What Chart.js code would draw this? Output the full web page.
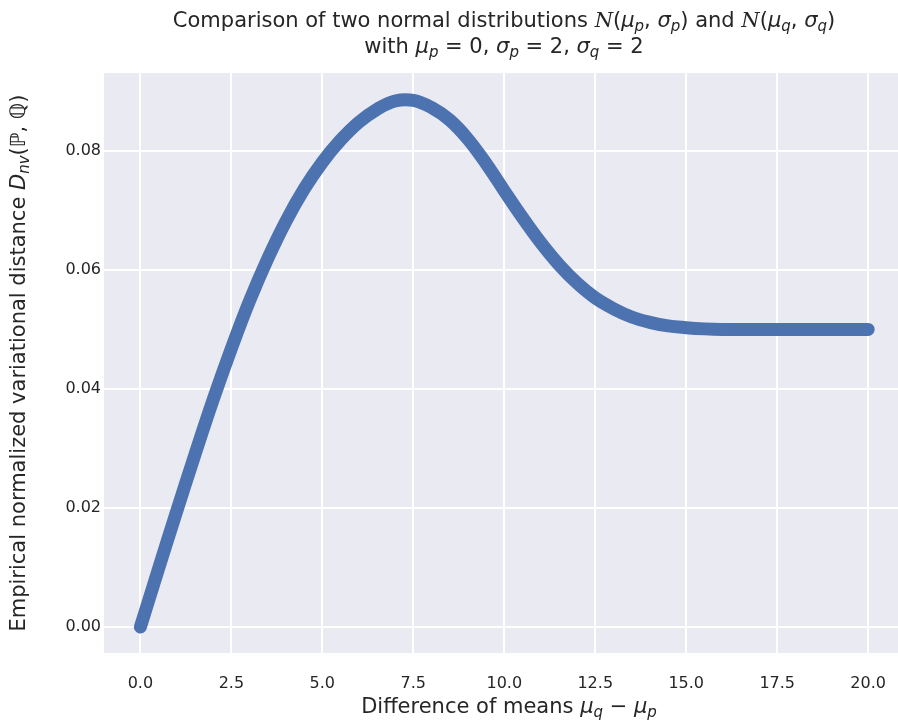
<!DOCTYPE html>
<html>
<head>
<meta charset="utf-8">
<script src="https://cdn.jsdelivr.net/npm/chart.js@4.4.0/dist/chart.umd.min.js"></script>
<style>
  html, body { margin: 0; padding: 0; background: #fff; }
</style>
</head>
<body>
<canvas id="distChart" width="898" height="722"></canvas>
<script>
// values
const meanDiff = [0, 0.5, 1, 1.5, 2, 2.5, 3, 3.5, 4, 4.5, 5, 5.5, 6, 6.5, 7, 7.5, 8, 8.5, 9, 9.5,
  10, 10.5, 11, 11.5, 12, 12.5, 13, 13.5, 14, 14.5, 15, 15.5, 16, 16.5, 17, 17.5, 18, 18.5, 19, 19.5, 20];
const distance = [0, 0.0098, 0.0195, 0.0290, 0.0382, 0.0468, 0.0548, 0.0619, 0.0682, 0.0736,
  0.0781, 0.0818, 0.0848, 0.0870, 0.0884, 0.0885, 0.0873, 0.0852, 0.0820, 0.0779,
  0.0733, 0.0688, 0.0646, 0.0609, 0.0578, 0.0553, 0.0535, 0.0521, 0.0512, 0.0506,
  0.0503, 0.0501, 0.0500, 0.0500, 0.0500, 0.0500, 0.0500, 0.0500, 0.0500, 0.0500, 0.0500];
const xTicks = [0, 2.5, 5, 7.5, 10, 12.5, 15, 17.5, 20];
const xTickLabels = ['0.0', '2.5', '5.0', '7.5', '10.0', '12.5', '15.0', '17.5', '20.0'];
const yTicks = [0, 0.02, 0.04, 0.06, 0.08];
const yTickLabels = ['0.00', '0.02', '0.04', '0.06', '0.08'];

const textColor = '#262626';
const FONT = '"DejaVu Sans", sans-serif';

// little helpers for the mathtext-like labels
const T = t => ({ t });
const I = t => ({ t, it: true });
const S = t => ({ t, it: true, sub: true });
const C = t => ({ t, cal: true });

const titleLine1 = [T('Comparison of two normal distributions '), C('N'), T('('), I('μ'), S('p'), T(', '), I('σ'), S('p'),
  T(') and '), C('N'), T('('), I('μ'), S('q'), T(', '), I('σ'), S('q'), T(')')];
const titleLine2 = [T('with '), I('μ'), S('p'), T(' = 0, '), I('σ'), S('p'), T(' = 2, '), I('σ'), S('q'), T(' = 2')];
const xLabel = [T('Difference of means '), I('μ'), S('q'), T(' − '), I('μ'), S('p')];
const yLabel = [T('Empirical normalized variational distance '), I('D'), S('nv'), T('(ℙ, ℚ)')];

function fontFor(s, size) {
  if (s.cal) return 'italic ' + size + 'px "DejaVu Serif", serif';
  const sz = s.sub ? Math.round(size * 0.72) : size;
  return (s.it ? 'italic ' : '') + sz + 'px ' + FONT;
}

function drawRich(ctx, segs, cx, cy, size) {
  let total = 0;
  segs.forEach(s => { ctx.font = fontFor(s, size); s.w = ctx.measureText(s.t).width; total += s.w; });
  let x = cx - total / 2;
  ctx.textAlign = 'left';
  ctx.textBaseline = 'middle';
  ctx.fillStyle = textColor;
  segs.forEach(s => {
    ctx.font = fontFor(s, size);
    ctx.fillText(s.t, x, cy + (s.sub ? size * 0.25 : 0));
    x += s.w;
  });
}

const backdrop = {
  id: 'backdrop',
  beforeDraw(chart) {
    const { ctx, chartArea: a } = chart;
    ctx.save();
    ctx.fillStyle = '#ffffff';
    ctx.fillRect(0, 0, chart.width, chart.height);
    ctx.fillStyle = '#EAEAF2';
    ctx.fillRect(a.left, a.top, a.right - a.left, a.bottom - a.top);
    ctx.restore();
  }
};

const labels = {
  id: 'labels',
  afterDraw(chart) {
    const { ctx, chartArea: a } = chart;
    ctx.save();
    drawRich(ctx, titleLine1, 504, 22, 21);
    drawRich(ctx, titleLine2, 504, 48, 21);
    drawRich(ctx, xLabel, 509, 708, 21);
    ctx.translate(20, (a.top + a.bottom) / 2);
    ctx.rotate(-Math.PI / 2);
    drawRich(ctx, yLabel, 0, 0, 21);
    ctx.restore();
  }
};

const el = document.getElementById('distChart');

new Chart(el, {
  type: 'line',
  data: {
    datasets: [{
      data: meanDiff.map((x, i) => ({ x: x, y: distance[i] })),
      borderColor: '#4C72B0',
      borderWidth: 13,
      borderCapStyle: 'round',
      borderJoinStyle: 'round',
      pointRadius: 0,
      tension: 0.4,
      fill: false
    }]
  },
  options: {
    responsive: false,
    animation: false,
    devicePixelRatio: 1,
    layout: { padding: { top: 73, left: 0, right: 0, bottom: 0 } },
    plugins: { legend: { display: false }, tooltip: { enabled: false } },
    scales: {
      x: {
        type: 'linear',
        min: -1,
        max: 20.82,
        afterBuildTicks: s => { s.ticks = xTicks.map(v => ({ value: v })); },
        afterFit: s => { s.height = 69; s.paddingLeft = 0; s.paddingRight = 0; },
        ticks: {
          padding: 21,
          color: textColor,
          font: { family: 'DejaVu Sans', size: 16 },
          callback: (v, i) => xTickLabels[i]
        },
        grid: { color: '#ffffff', lineWidth: 2, drawTicks: false },
        border: { display: false }
      },
      y: {
        min: -0.00437,
        max: 0.0931,
        afterBuildTicks: s => { s.ticks = yTicks.map(v => ({ value: v })); },
        afterFit: s => { s.width = 104; s.paddingTop = 0; s.paddingBottom = 0; },
        ticks: {
          padding: 3,
          color: textColor,
          font: { family: 'DejaVu Sans', size: 16 },
          callback: (v, i) => yTickLabels[i]
        },
        grid: { color: '#ffffff', lineWidth: 2, drawTicks: false },
        border: { display: false }
      }
    }
  },
  plugins: [backdrop, labels]
});
</script>
</body>
</html>
